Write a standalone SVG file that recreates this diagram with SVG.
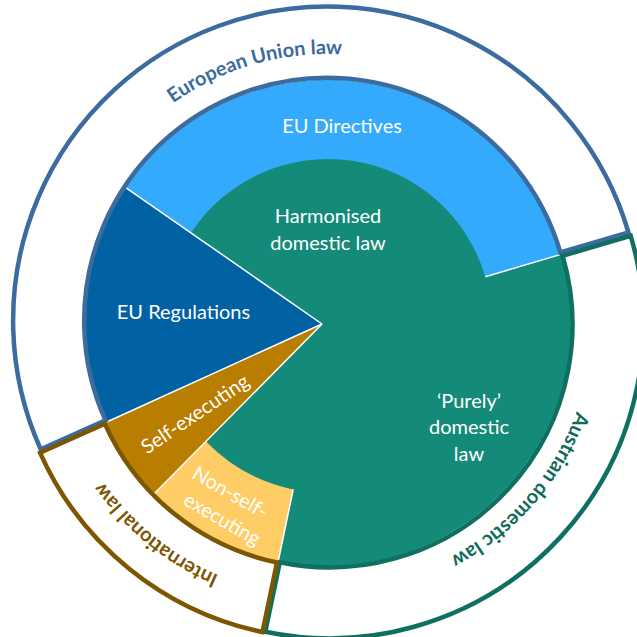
<svg xmlns="http://www.w3.org/2000/svg" width="637" height="637" viewBox="0 0 637 637">
<defs>
<style>
.lbl{font-family:Lato,"Open Sans","DejaVu Sans",sans-serif;font-size:20px;fill:#ffffff;text-anchor:middle}
.rt{font-family:Lato,"Open Sans","DejaVu Sans",sans-serif;font-size:20px;font-weight:bold;text-anchor:middle}
.sep{stroke:#ffffff;stroke-width:1.5;fill:none}
.ring{fill:#ffffff;stroke-width:4.5;stroke-linejoin:miter}
</style>
<path id="pEU" d="M61,323 A267 267 0 0 1 595,323"/>
<path id="pAT" d="M554.9,192 A262 262 0 0 1 197,549.9"/>
<path id="pIN" d="M421.4,579.5 A273 273 0 0 1 59.1,275.6"/>
</defs>
<rect width="637" height="637" fill="#ffffff"/>

<g id="purely-domestic-law">
<circle cx="328" cy="323" r="243" fill="#148A78"/>
<text class="lbl" x="469" y="408">‘Purely’</text>
<text class="lbl" x="469" y="434">domestic</text>
<text class="lbl" x="469" y="461">law</text>
</g>

<g id="eu-directives">
<path d="M126.1,187.8 A243 243 0 0 1 561.1,254.4 L485.3,276.7 A164 164 0 0 0 191.0,232.9 Z" fill="#34AAFD"/>
<text class="lbl" x="342" y="133">EU Directives</text>
</g>

<g id="harmonised-domestic-law">
<text class="lbl" x="328" y="223">Harmonised</text>
<text class="lbl" x="328" y="250">domestic law</text>
</g>

<g id="eu-regulations">
<path d="M322,324 L126.1,187.8 A243 243 0 0 0 106.2,422.2 Z" fill="#0061A3"/>
<text class="lbl" x="183.5" y="319">EU Regulations</text>
</g>

<g id="self-executing">
<path d="M322,324 L106.2,422.2 A243 243 0 0 0 154.7,493.3 Z" fill="#B97D00"/>
<text class="lbl" transform="translate(195,414) rotate(-34)" y="7">Self-executing</text>
</g>

<g id="non-self-executing">
<path d="M154.7,493.3 A243 243 0 0 0 278.3,560.9 L293.2,489.4 A170 170 0 0 1 206.0,441.4 Z" fill="#FECD66"/>
<text class="lbl" transform="translate(227.3,506.3) rotate(30)">
<tspan x="-2" y="-6.6">Non-self-</tspan>
<tspan x="2" y="20.6">executing</tspan>
</text>
</g>

<g id="separators">
<line class="sep" x1="126.1" y1="187.8" x2="322" y2="324"/>
<line class="sep" x1="106.2" y1="422.2" x2="322" y2="324"/>
<line class="sep" x1="154.7" y1="493.3" x2="322" y2="324"/>
<line class="sep" x1="561.1" y1="254.4" x2="485.3" y2="276.7"/>
<line class="sep" x1="278.3" y1="560.9" x2="293.2" y2="489.4"/>
</g>

<g id="european-union-law" transform="translate(-0.7,-1.9)">
<path class="ring" stroke="#3B6B9F" d="M41.4,451.2 A314 314 0 1 1 629.2,234.4 L561.1,254.4 A243 243 0 1 0 106.2,422.2 Z"/>
<text class="rt" fill="#3B6B9F"><textPath href="#pEU" startOffset="41.06%">European Union law</textPath></text>
</g>

<g id="austrian-domestic-law" transform="translate(1.5,1.4)">
<path class="ring" stroke="#0F6F60" d="M629.2,234.4 A314 314 0 0 1 263.8,630.4 L278.3,560.9 A243 243 0 0 0 561.1,254.4 Z"/>
<text class="rt" fill="#0F6A5B"><textPath href="#pAT" startOffset="47.3%">Austrian domestic law</textPath></text>
</g>

<g id="international-law" transform="translate(-1.3,1.6)">
<path class="ring" stroke="#7D5700" d="M263.8,630.4 A314 314 0 0 1 41.4,451.2 L106.2,422.2 A243 243 0 0 0 278.3,560.9 Z"/>
<text class="rt" fill="#7D5700"><textPath href="#pIN" startOffset="49.25%">International law</textPath></text>
</g>
</svg>
